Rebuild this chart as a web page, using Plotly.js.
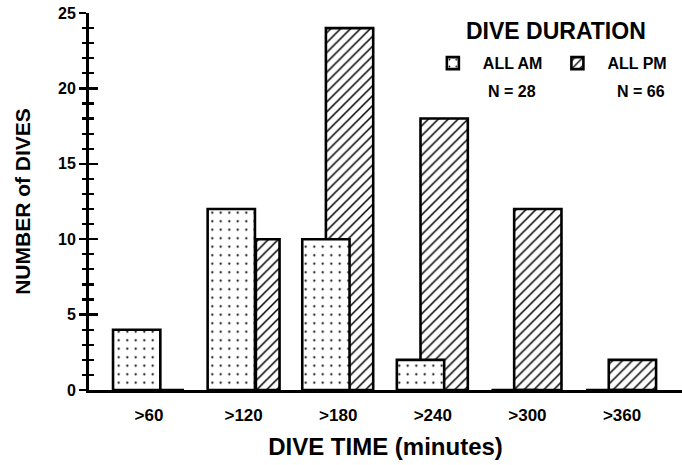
<!DOCTYPE html>
<html><head><meta charset="utf-8">
<script src="https://cdn.plot.ly/plotly-3.0.1.min.js"></script>
<style>html,body{margin:0;padding:0;background:#fff}</style>
</head><body>
<div id="chart" style="width:682px;height:465px"></div>
<script>
// ---- data ----
const categories = [">60", ">120", ">180", ">240", ">300", ">360"];
const amDives = [4, 12, 10, 2, 0, 0];
const pmDives = [0, 10, 24, 18, 12, 2];
const legendTitle = "DIVE DURATION";
const amLabel = "ALL AM";
const pmLabel = "ALL PM";
const amCount = "N = 28";
const pmCount = "N = 66";

const FONT = "Liberation Sans, Arial, Helvetica, sans-serif";
const outline = {color: "black", width: 2.6};

const pmTrace = {
  type: "bar", name: pmLabel, x: categories, y: pmDives,
  width: [0.5, 0.25, 0.5, 0.5, 0.5, 0.5],
  offset: [-0.13, 0.13, -0.13, -0.13, -0.14, -0.14],
  marker: {color: "white", line: outline,
    pattern: {shape: "/", fgcolor: "black", bgcolor: "white", size: 7, solidity: 0.22}},
  hoverinfo: "x+y+name"
};
const amTrace = {
  type: "bar", name: amLabel, x: categories, y: amDives,
  width: 0.5, offset: -0.38,
  marker: {color: "white", line: outline,
    pattern: {shape: ".", fgcolor: "black", bgcolor: "white", size: 8.5, solidity: 0.05}},
  hoverinfo: "x+y+name"
};
// helper trace with no visible mark, only so the inner tick axis (y2) is drawn
const tickHelper = {type: "scatter", mode: "markers", x: [categories[0]], y: [null],
  yaxis: "y2", showlegend: false, hoverinfo: "skip"};

const bold = (size) => ({family: FONT, size: size, weight: "bold", color: "black"});

const layout = {
  width: 682, height: 465,
  margin: {l: 89, r: 0, t: 13, b: 75},
  paper_bgcolor: "white", plot_bgcolor: "white",
  barmode: "overlay",
  showlegend: true,
  font: {family: FONT, color: "black"},
  xaxis: {
    type: "category", range: [-0.634, 5.634],
    showline: true, linewidth: 3, linecolor: "black",
    ticks: "", showgrid: false, zeroline: false,
    tickfont: bold(17),
    ticklabelstandoff: 8,
    title: {text: "DIVE TIME (minutes)", font: bold(24), standoff: 14}
  },
  yaxis: {
    range: [0, 25], tick0: 0, dtick: 5,
    showline: true, linewidth: 3, linecolor: "black",
    ticks: "outside", ticklen: 7, tickwidth: 2.5, tickcolor: "black",
    minor: {dtick: 1, ticks: "outside", ticklen: 4, tickwidth: 2.2, tickcolor: "black"},
    showgrid: false, zeroline: false,
    tickfont: bold(16),
    title: {text: "NUMBER of DIVES", font: bold(21), standoff: 22}
  },
  yaxis2: {
    overlaying: "y", anchor: "x", side: "left",
    range: [0, 25], tick0: 0, dtick: 5,
    showline: false, showgrid: false, zeroline: false, showticklabels: false,
    ticks: "inside", ticklen: 9, tickwidth: 2.5, tickcolor: "black",
    minor: {dtick: 1, ticks: "inside", ticklen: 5, tickwidth: 2.2, tickcolor: "black"}
  },
  legend: {
    orientation: "h", traceorder: "reversed",
    x: 0.563, xanchor: "left", y: 0.912, yanchor: "top",
    itemwidth: 50, valign: "top",
    bgcolor: "rgba(0,0,0,0)",
    font: bold(16)
  },
  annotations: [
    {text: legendTitle, xref: "paper", yref: "paper", x: 0.788, y: 0.952,
     xanchor: "center", yanchor: "middle", showarrow: false, font: bold(23)},
    {text: amCount, xref: "paper", yref: "paper", x: 0.713, y: 0.792,
     xanchor: "center", yanchor: "middle", showarrow: false, font: bold(16)},
    {text: pmCount, xref: "paper", yref: "paper", x: 0.931, y: 0.792,
     xanchor: "center", yanchor: "middle", showarrow: false, font: bold(16)}
  ]
};

Plotly.newPlot("chart", [pmTrace, amTrace, tickHelper], layout, {displayModeBar: false, staticPlot: true});
</script>
</body></html>
